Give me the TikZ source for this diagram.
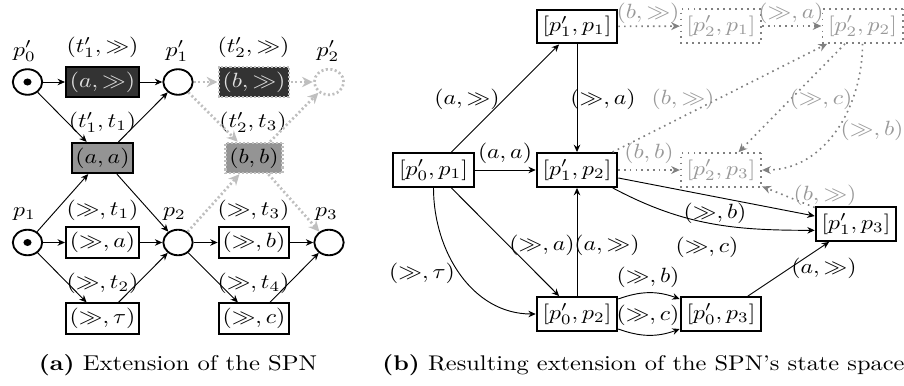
\documentclass[tikz,border=0pt]{standalone}
\usetikzlibrary{arrows.meta}
\begin{document}
\begin{tikzpicture}[x=0.4854pt,y=0.4854pt,
  every node/.style={xscale=1.15},
  place/.style={circle,draw,line width=0.9pt,minimum size=12.4pt,inner sep=0pt},
  gplace/.style={circle,draw=black!25,line width=1.3pt,dash pattern=on 1pt off 1.2pt,minimum size=12.4pt,inner sep=0pt},
  tok/.style={circle,fill=black,minimum size=3.4pt,inner sep=0pt},
  trans/.style={rectangle,draw,line width=1pt,minimum height=14.6pt,inner xsep=1.6pt,inner ysep=0pt},
  darktrans/.style={trans,fill=black!80,text=black!12},
  midtrans/.style={trans,fill=black!42},
  gdarktrans/.style={darktrans,draw=black!25,line width=1.2pt,dash pattern=on 1pt off 1pt},
  gmidtrans/.style={midtrans,draw=black!25,line width=1.2pt,dash pattern=on 1pt off 1pt},
  state/.style={rectangle,draw,line width=1pt,minimum height=16.4pt,inner xsep=2.4pt,inner ysep=0pt},
  gstate/.style={state,draw=black!50,line width=0.9pt,dotted,text=black!40},
  lab/.style={inner sep=0pt},
  glab/.style={inner sep=0pt,text=black!40},
  arr/.style={-{Stealth[length=3.6pt,width=3.2pt]},line width=0.45pt},
  larr/.style={-{Stealth[length=5.2pt,width=5pt]},draw=black!25,line width=1.3pt,dash pattern=on 1pt off 1.2pt},
  garr/.style={-{Stealth[length=4.2pt,width=3.8pt]},draw=black!50,line width=0.8pt,dotted},
  captext/.style={inner sep=0pt,font=\fontsize{10.4}{12.5}\selectfont}
]
\useasboundingbox (0,0) rectangle (904,-385);

% ---------------- (a) ----------------
\node[place] (pa0) at (27.5,-82) {};
\node[tok] (tok0) at (pa0.center) {};
\node[darktrans] (t1) at (102.5,-82) {$(a,\gg)$};
\node[place] (pa1) at (178,-82) {};
\node[gdarktrans] (t2) at (254,-82) {$(b,\gg)$};
\node[gplace] (pa2) at (329,-82) {};
\node[midtrans] (aa) at (102.5,-158) {$(a,a)$};
\node[gmidtrans] (bb) at (254,-158) {$(b,b)$};
\node[place] (pb1) at (27.5,-242.5) {};
\node[tok] (tok1) at (pb1.center) {};
\node[trans] (ta) at (102.5,-242.5) {$(\gg,a)$};
\node[place] (pb2) at (178,-242.5) {};
\node[trans] (tb) at (254,-242.5) {$(\gg,b)$};
\node[place] (pb3) at (329,-242.5) {};
\node[trans] (ttau) at (102.5,-318.5) {$(\gg,\tau)$};
\node[trans] (tc) at (254,-318.5) {$(\gg,c)$};

\node[lab] (lpa0) at (24.5,-51) {$p'_0$};
\node[lab] (lpa1) at (177,-51) {$p'_1$};
\node[lab] (lpa2) at (328,-51) {$p'_2$};
\node[lab] (lt1) at (102.5,-47.5) {$(t'_1,\gg)$};
\node[lab] (lt2) at (253.5,-47.5) {$(t'_2,\gg)$};
\node[lab] (laa) at (102.5,-122.5) {$(t'_1,t_1)$};
\node[lab] (lbb) at (253,-122.5) {$(t'_2,t_3)$};
\node[lab] (lpb1) at (24.5,-214) {$p_1$};
\node[lab] (lpb2) at (174.5,-214) {$p_2$};
\node[lab] (lpb3) at (326.5,-214) {$p_3$};
\node[lab] (lta) at (102.5,-210) {$(\gg,t_1)$};
\node[lab] (ltb) at (253.5,-210) {$(\gg,t_3)$};
\node[lab] (lttau) at (102.5,-283.5) {$(\gg,t_2)$};
\node[lab] (ltc) at (253.5,-283.5) {$(\gg,t_4)$};

\draw[arr] (pa0) -- (t1);
\draw[arr] (t1) -- (pa1);
\draw[arr] (pa0) -- (aa);
\draw[arr] (aa) -- (pa1);
\draw[arr] (pb1) -- (aa);
\draw[arr] (aa) -- (pb2);
\draw[arr] (pb1) -- (ta);
\draw[arr] (ta) -- (pb2);
\draw[arr] (pb1) -- (ttau);
\draw[arr] (ttau) -- (pb2);
\draw[arr] (pb2) -- (tb);
\draw[arr] (tb) -- (pb3);
\draw[arr] (pb2) -- (tc);
\draw[arr] (tc) -- (pb3);
\draw[larr] (pa1) -- (t2);
\draw[larr] (t2) -- (pa2);
\draw[larr] (pa1) -- (bb);
\draw[larr] (bb) -- (pa2);
\draw[larr] (pb2) -- (bb);
\draw[larr] (bb) -- (pb3);

\node[captext] (capa) at (178,-365) {\textbf{(a)} Extension of the SPN};

% ---------------- (b) ----------------
\node[state] (s11) at (577,-26.5) {$[p'_1,p_1]$};
\node[gstate] (s21) at (721,-26) {$[p'_2,p_1]$};
\node[gstate] (s22) at (862.5,-26) {$[p'_2,p_2]$};
\node[state] (s01) at (433.5,-170) {$[p'_0,p_1]$};
\node[state] (s12) at (577,-170) {$[p'_1,p_2]$};
\node[gstate] (s23) at (721,-170) {$[p'_2,p_3]$};
\node[state] (s13) at (856,-224) {$[p'_1,p_3]$};
\node[state] (s02) at (577,-314) {$[p'_0,p_2]$};
\node[state] (s03) at (721,-314) {$[p'_0,p_3]$};

\draw[arr] (s01) -- (s11);
\draw[arr] (s11) -- (s12);
\draw[arr] (s01) -- (s12);
\draw[arr] (s01) -- (s02);
\draw[arr] (s01.south) to[out=-90,in=180] (s02.west);
\draw[arr] (s02) -- (s12);
\draw[arr] (s02) to[bend left=20] (s03);
\draw[arr] (s02) to[bend right=20] (s03);
\draw[arr] (s03) -- (s13);
\draw[arr] (s12) -- (s13);
\draw[arr] (s12.-30) to[out=-28,in=180] (s13.190);

\draw[garr] (s11) -- (s21);
\draw[garr] (s21) -- (s22);
\draw[garr] (s12) -- (s23);
\draw[garr] (s12) -- (s22);
\draw[garr] (s22) -- (s23);
\draw[garr] (s22.south) to[out=-90,in=0] (s23.east);
\draw[garr] (s13) -- (s23);

\node[lab] (e1) at (467,-99) {$(a,\gg)$};
\node[lab] (e2) at (603,-99) {$(\gg,a)$};
\node[glab] (e3) at (683,-99) {$(b,\gg)$};
\node[glab] (e4) at (821,-99) {$(\gg,c)$};
\node[glab] (e5) at (872,-130) {$(\gg,b)$};
\node[glab] (e6) at (648,-13) {$(b,\gg)$};
\node[glab] (e7) at (791,-13) {$(\gg,a)$};
\node[lab] (e8) at (505,-153) {$(a,a)$};
\node[glab] (e9) at (649,-153) {$(b,b)$};
\node[glab] (e10) at (825,-195) {$(b,\gg)$};
\node[lab] (e11) at (715,-213) {$(\gg,b)$};
\node[lab] (e12) at (707,-247) {$(\gg,c)$};
\node[lab] (e13) at (542,-245) {$(\gg,a)$};
\node[lab] (e14) at (607,-245) {$(a,\gg)$};
\node[lab] (e15) at (422,-273) {$(\gg,\tau)$};
\node[lab] (e16) at (648,-277) {$(\gg,b)$};
\node[lab] (e17) at (648,-315) {$(\gg,c)$};
\node[lab] (e18) at (824,-268) {$(a,\gg)$};

\node[captext,anchor=west,font=\fontsize{10.3}{12.5}\selectfont] (capb) at (382,-365) {\textbf{(b)} Resulting extension of the SPN's state space};
\end{tikzpicture}
\end{document}
